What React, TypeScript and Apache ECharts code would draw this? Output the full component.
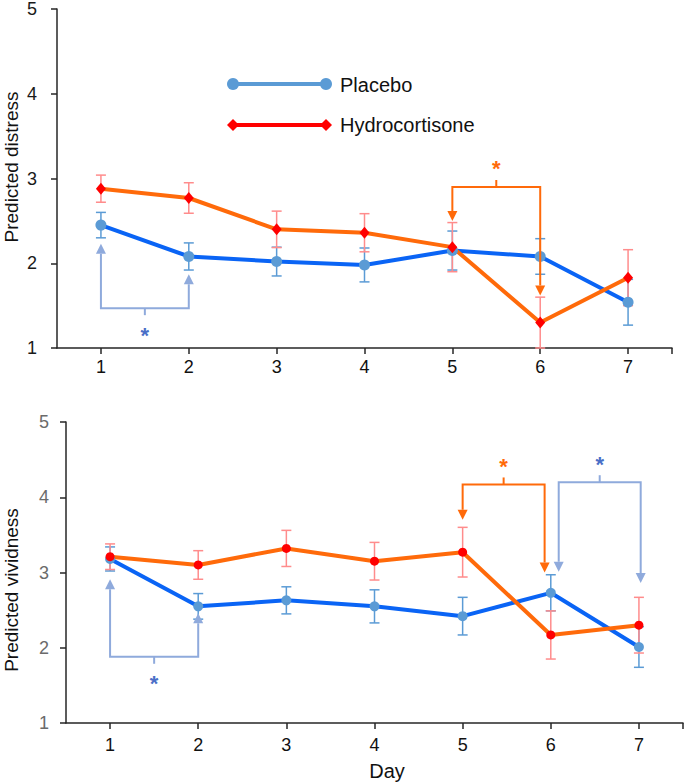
import React, { useEffect, useRef } from "react";
import * as echarts from "echarts";

// ---------- data ----------
const days = [1, 2, 3, 4, 5, 6, 7];
const yTicks = [1, 2, 3, 4, 5];

const distressPlacebo = [2.45, 2.08, 2.02, 1.98, 2.15, 2.08, 1.54];
const distressPlaceboErr = [0.15, 0.16, 0.17, 0.2, 0.23, 0.21, 0.27];
const distressHydro = [2.88, 2.77, 2.4, 2.36, 2.19, 1.3, 1.83];
const distressHydroErr = [0.16, 0.18, 0.215, 0.225, 0.29, 0.3, 0.33];

const vividPlacebo = [3.18, 2.55, 2.63, 2.55, 2.42, 2.73, 2.01];
const vividPlaceboErr = [0.16, 0.17, 0.18, 0.22, 0.25, 0.24, 0.27];
const vividHydro = [3.21, 3.1, 3.32, 3.15, 3.27, 2.17, 2.3];
const vividHydroErr = [0.17, 0.19, 0.24, 0.25, 0.33, 0.32, 0.37];

// significance brackets: [fromDay, toDay, barLevel, tipLevelFrom, tipLevelTo]
const distressBrackets = [
  [1, 2, 1.47, 2.23, 1.87],
  [5, 6, 2.9, 2.5, 1.62],
];
const distressBracketGroup = ["placebo", "hydro"];
const vividBrackets = [
  [1, 2, 1.88, 2.91, 2.46],
  [5, 5.93, 4.17, 3.7, 3.0],
  [6.09, 7.02, 4.2, 3.01, 2.86],
];
const vividBracketGroup = ["placebo", "hydro", "placebo"];

const seriesNames = ["Placebo", "Hydrocortisone"];
const yNames = ["Predicted distress", "Predicted vividness"];
const xName = "Day";

// ---------- styles ----------
const FONT = "'Liberation Sans', Arial, Helvetica, sans-serif";
const BLUE_LINE = "#0A64F5";
const BLUE_MARK = "#5B9BD5";
const ORANGE_LINE = "#FF6A0A";
const RED_MARK = "#FF0000";
const PINK_ERR = "#FF8C8C";
const BRACKET_COLORS: Record<string, { line: string; star: string }> = {
  placebo: { line: "#8FAADC", star: "#4A6FC7" },
  hydro: { line: "#FF6A0A", star: "#FF6A0A" },
};

function errData(vals: number[], errs: number[]) {
  return days.map((d, i) => [d, vals[i] - errs[i], vals[i] + errs[i]]);
}
function lineData(vals: number[]) {
  return days.map((d, i) => [d, vals[i]]);
}

function errorSeries(idx: number, vals: number[], errs: number[], color: string) {
  return {
    type: "custom",
    xAxisIndex: idx,
    yAxisIndex: idx,
    z: 2,
    clip: false,
    data: errData(vals, errs),
    encode: { x: 0, y: [1, 2] },
    renderItem: (params: any, api: any) => {
      const x = api.value(0);
      const lo = api.coord([x, api.value(1)]);
      const hi = api.coord([x, api.value(2)]);
      const hw = 5;
      const style = { stroke: color, lineWidth: 1.5, fill: null };
      return {
        type: "group",
        children: [
          { type: "line", shape: { x1: lo[0], y1: lo[1], x2: hi[0], y2: hi[1] }, style },
          { type: "line", shape: { x1: lo[0] - hw, y1: lo[1], x2: lo[0] + hw, y2: lo[1] }, style },
          { type: "line", shape: { x1: hi[0] - hw, y1: hi[1], x2: hi[0] + hw, y2: hi[1] }, style },
        ],
      };
    },
  };
}

function bracketSeries(idx: number, brackets: number[][], groups: string[]) {
  return {
    type: "custom",
    xAxisIndex: idx,
    yAxisIndex: idx,
    z: 5,
    clip: false,
    data: brackets,
    encode: { x: [0, 1], y: [2, 3, 4] },
    renderItem: (params: any, api: any) => {
      const c = BRACKET_COLORS[groups[params.dataIndex]];
      const x1 = api.value(0), x2 = api.value(1), bar = api.value(2);
      const t1 = api.value(3), t2 = api.value(4);
      const p1 = api.coord([x1, bar]);
      const p2 = api.coord([x2, bar]);
      const a = api.coord([x1, t1]);
      const b = api.coord([x2, t2]);
      const dir = t1 > bar ? 1 : -1;
      const head = 10, hw = 5;
      const ls = { stroke: c.line, lineWidth: 2, fill: null };
      const mx = (p1[0] + p2[0]) / 2;
      return {
        type: "group",
        children: [
          {
            type: "polyline",
            shape: {
              points: [
                [p1[0], a[1] + dir * head],
                [p1[0], p1[1]],
                [p2[0], p2[1]],
                [p2[0], b[1] + dir * head],
              ],
            },
            style: ls,
          },
          {
            type: "polygon",
            shape: { points: [[a[0] - hw, a[1] + dir * head], [a[0] + hw, a[1] + dir * head], [a[0], a[1]]] },
            style: { fill: c.line },
          },
          {
            type: "polygon",
            shape: { points: [[b[0] - hw, b[1] + dir * head], [b[0] + hw, b[1] + dir * head], [b[0], b[1]]] },
            style: { fill: c.line },
          },
          { type: "line", shape: { x1: mx, y1: p1[1], x2: mx, y2: p1[1] + dir * 7 }, style: ls },
          {
            type: "text",
            x: mx,
            y: p1[1] + (dir > 0 ? 27 : -18),
            style: {
              text: "*",
              fill: c.star,
              font: `bold 22px ${FONT}`,
              align: "center",
              verticalAlign: "middle",
            },
          },
        ],
      };
    },
  };
}

function lineSeries(
  idx: number,
  name: string,
  vals: number[],
  lineColor: string,
  markColor: string,
  symbol: string,
  size: number | number[]
) {
  return {
    type: "line",
    name,
    xAxisIndex: idx,
    yAxisIndex: idx,
    z: 3,
    data: lineData(vals),
    symbol,
    symbolSize: size,
    showSymbol: true,
    lineStyle: { color: lineColor, width: 4 },
    itemStyle: { color: markColor },
  };
}

function xAxis(idx: number, margin: number) {
  return {
    type: "value",
    gridIndex: idx,
    min: 0.5,
    max: 7.5,
    splitLine: { show: false },
    axisLine: { show: true, onZero: false, lineStyle: { color: "#262626", width: 1.5 } },
    axisTick: { show: true, length: 6, customValues: [...days, 7.5], lineStyle: { color: "#262626", width: 1.5 } },
    axisLabel: {
      customValues: days,
      margin,
      color: "#111",
      fontSize: 18,
      fontFamily: FONT,
    },
  };
}

function yAxis(idx: number, labelColor: string, margin: number) {
  return {
    type: "value",
    gridIndex: idx,
    min: yTicks[0],
    max: yTicks[yTicks.length - 1],
    interval: 1,
    splitLine: { show: false },
    axisLine: { show: true, onZero: false, lineStyle: { color: "#262626", width: 1.5 } },
    axisTick: { show: true, length: 6, lineStyle: { color: "#262626", width: 1.5 } },
    axisLabel: { margin, color: labelColor, fontSize: 18, fontFamily: FONT },
  };
}

export default function App() {
  const ref = useRef<HTMLDivElement>(null);
  useEffect(() => {
    if (!ref.current) return;
    const chart = echarts.init(ref.current, null, { renderer: "svg" });
    const legendText = { fill: "#111", font: `20px ${FONT}`, verticalAlign: "middle" };
    chart.setOption({
      animation: false,
      backgroundColor: "#ffffff",
      grid: [
        { left: 57, top: 7, right: 13, bottom: 436 },
        { left: 66, top: 422, right: 2, bottom: 61 },
      ],
      xAxis: [xAxis(0, 10), xAxis(1, 13)],
      yAxis: [yAxis(0, "#1a1a1a", 20), yAxis(1, "#6b6b6b", 17)],
      series: [
        errorSeries(0, distressPlacebo, distressPlaceboErr, BLUE_MARK),
        errorSeries(0, distressHydro, distressHydroErr, PINK_ERR),
        lineSeries(0, seriesNames[0], distressPlacebo, BLUE_LINE, BLUE_MARK, "circle", 11),
        lineSeries(0, seriesNames[1], distressHydro, ORANGE_LINE, RED_MARK, "diamond", [10, 12]),
        bracketSeries(0, distressBrackets, distressBracketGroup),
        errorSeries(1, vividPlacebo, vividPlaceboErr, BLUE_MARK),
        errorSeries(1, vividHydro, vividHydroErr, PINK_ERR),
        lineSeries(1, seriesNames[0], vividPlacebo, BLUE_LINE, BLUE_MARK, "circle", 10),
        lineSeries(1, seriesNames[1], vividHydro, ORANGE_LINE, RED_MARK, "circle", 9),
        bracketSeries(1, vividBrackets, vividBracketGroup),
      ],
      graphic: [
        // legend
        { type: "line", shape: { x1: 233, y1: 84, x2: 326, y2: 84 }, style: { stroke: BLUE_MARK, lineWidth: 4 } },
        { type: "circle", shape: { cx: 233, cy: 84, r: 6 }, style: { fill: BLUE_MARK } },
        { type: "circle", shape: { cx: 326, cy: 84, r: 6 }, style: { fill: BLUE_MARK } },
        { type: "text", x: 340, y: 85, style: { ...legendText, text: seriesNames[0] } },
        { type: "line", shape: { x1: 233, y1: 125, x2: 326, y2: 125 }, style: { stroke: RED_MARK, lineWidth: 4 } },
        { type: "polygon", shape: { points: [[227, 125], [233, 119], [239, 125], [233, 131]] }, style: { fill: RED_MARK } },
        { type: "polygon", shape: { points: [[320, 125], [326, 119], [332, 125], [326, 131]] }, style: { fill: RED_MARK } },
        { type: "text", x: 340, y: 125, style: { ...legendText, text: seriesNames[1] } },
        // axis names
        {
          type: "text",
          x: 11,
          y: 167,
          rotation: Math.PI / 2,
          style: { text: yNames[0], fill: "#111", font: `19px ${FONT}`, align: "center", verticalAlign: "middle" },
        },
        {
          type: "text",
          x: 11,
          y: 590,
          rotation: Math.PI / 2,
          style: { text: yNames[1], fill: "#111", font: `19px ${FONT}`, align: "center", verticalAlign: "middle" },
        },
        {
          type: "text",
          x: 387,
          y: 771,
          style: { text: xName, fill: "#111", font: `20px ${FONT}`, align: "center", verticalAlign: "middle" },
        },
      ],
    });
    return () => chart.dispose();
  }, []);
  return (
    <div
      ref={ref}
      style={{ position: "fixed", left: 0, top: 0, width: 685, height: 784, background: "#fff" }}
    />
  );
}
